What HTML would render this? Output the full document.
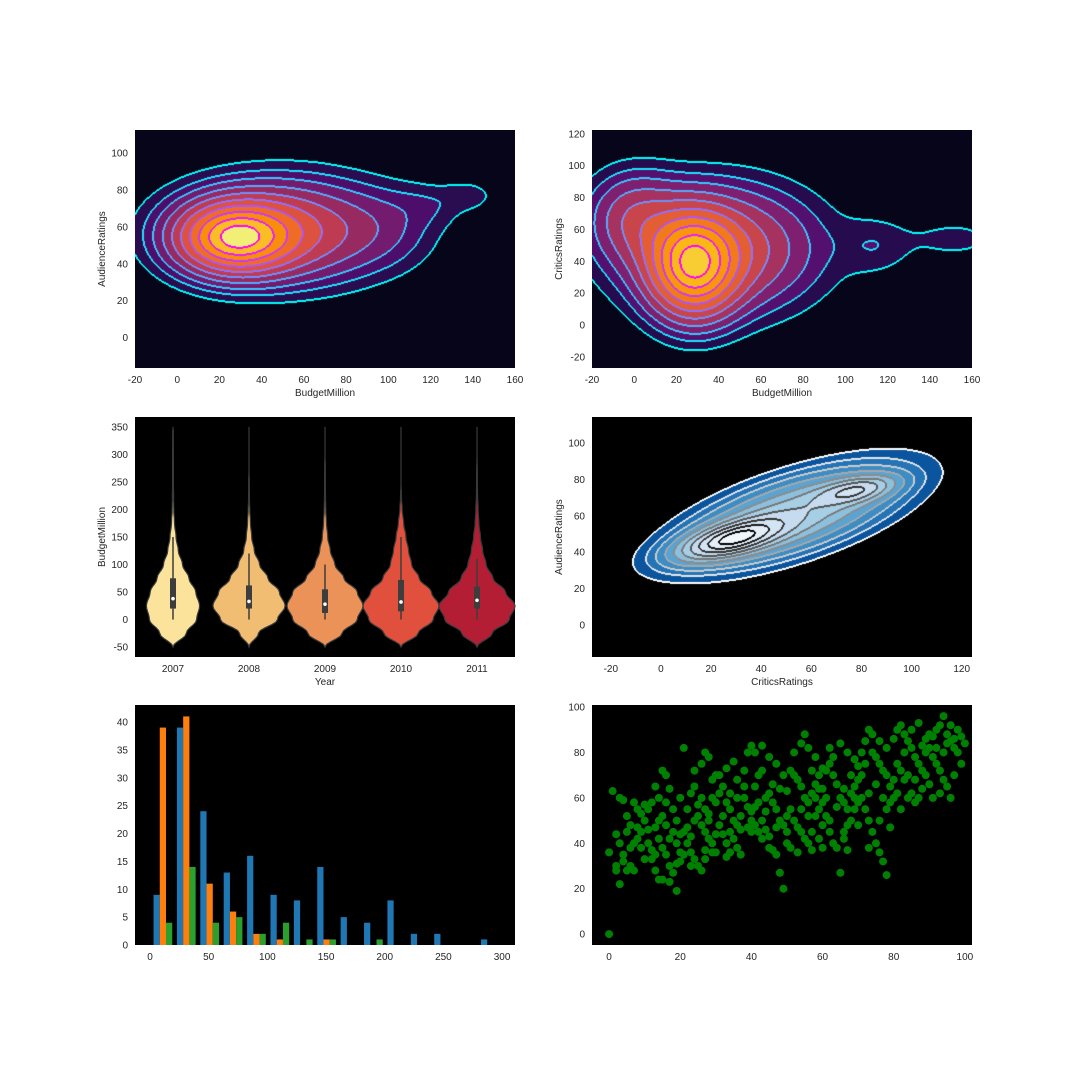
<!DOCTYPE html>
<html><head><meta charset="utf-8">
<style>
html,body{margin:0;padding:0;background:#fff;width:1080px;height:1080px;overflow:hidden}
#wrap{position:relative;width:1080px;height:1080px}
canvas{position:absolute}
svg{position:absolute;left:0;top:0}
text{font-family:"Liberation Sans",Arial,sans-serif;fill:#262626}
</style></head>
<body>
<div id="wrap">
<canvas id="c-tl" width="380" height="238" style="left:135px;top:130px"></canvas>
<canvas id="c-tr" width="380" height="238" style="left:592px;top:130px"></canvas>
<canvas id="c-mr" width="380" height="240" style="left:592px;top:417px"></canvas>
<svg id="svg" width="1080" height="1080"></svg>
</div>
<script>
// ---------- data ----------
// KDE components: weight, mx, my, sx, sy, rho
const tlWeights=[1.0,0.5,0.06,0.06,0.05];
const tlMx=[27,50,138,100,120];
const tlMy=[54,58,77,60,72];
const tlSx=[17,30,8,15,12];
const tlSy=[12,17,5,14,8];
const tlRho=[0,0,0,0,0];
const trWeights=[1.0,0.45,0.25,0.06,0.07];
const trMx=[28,40,0,152,115];
const trMy=[37,48,68,54,50];
const trSx=[13,28,14,14,12];
const trSy=[20,24,18,8,12];
const trRho=[0,0,0,0,0];
const mrWeights=[1.0,0.55,0.6];
const mrMx=[28,78,52];
const mrMy=[47,74,60];
const mrSx=[13,10,26];
const mrSy=[7,5,16];
const mrRho=[0.6,0.5,0.65];
// contour levels as fraction of peak density (outer -> inner)
const kdeLevels=[0.03,0.06,0.1,0.16,0.24,0.34,0.46,0.6,0.75,0.9];
// violin
const years=['2007','2008','2009','2010','2011'];
const violinGrid=[-50,-25,0,25,50,75,100,125,150,175,200,225,250,275,300,325,350];
const violinW2007=[0,0.35,0.62,0.7,0.6,0.42,0.25,0.14,0.08,0.04,0.02,0.015,0.01,0.01,0.008,0.005,0];
const violinW2008=[0,0.25,0.75,0.95,0.8,0.5,0.28,0.14,0.07,0.04,0.02,0.01,0.005,0,0,0,0];
const violinW2009=[0,0.45,0.85,1.0,0.85,0.5,0.26,0.14,0.07,0.04,0.02,0.012,0.008,0.005,0,0,0];
const violinW2010=[0,0.45,0.85,1.0,0.8,0.48,0.28,0.2,0.13,0.07,0.03,0.01,0,0,0,0,0];
const violinW2011=[0,0.4,0.85,1.0,0.75,0.42,0.24,0.15,0.09,0.05,0.03,0.015,0.008,0.004,0,0,0];
const violinTop=[345,260,287,235,282];
const violinBottom=[-48,-35,-40,-40,-38];
const boxQ1=[20,20,12,15,20];
const boxQ3=[75,62,55,72,60];
const boxMed=[38,33,28,32,35];
const whiskLo=[0,0,0,0,0];
const whiskHi=[150,120,100,150,110];
// histogram
const histEdgesStart=1, histBinWidth=19.93;
const histBlue=[9,39,24,13,16,9,8,14,5,4,8,2,2,0,1];
const histOrange=[39,41,11,6,2,1,0,1,0,0,0,0,0,0,0];
const histGreen=[4,14,4,5,2,4,1,1,0,1,0,0,0,0,0];
// scatter
const scatterX=[0,1,0,3,4,2,2,3,4,5,5,6,7,8,8,9,10,4,6,7,9,10,6,3,2,7,8,9,10,5,
11,12,13,14,15,16,17,13,14,15,16,17,18,19,12,13,15,17,11,12,14,15,16,18,19,19,20,18,20,16,11,13,17,20,19,14,
21,22,23,24,25,26,27,28,29,30,21,22,23,24,25,26,27,28,29,30,24,26,27,28,29,22,23,25,26,27,28,30,21,23,27,29,20,24,
31,32,33,34,35,36,37,38,39,40,31,32,33,34,35,36,37,39,40,31,33,35,36,38,39,40,32,34,36,38,30,37,40,33,34,
41,42,43,44,45,46,47,48,49,50,41,42,43,44,45,46,47,48,49,50,41,43,45,47,49,42,44,46,48,50,41,43,45,47,50,
51,52,53,54,55,56,57,58,59,60,51,52,53,54,55,56,57,58,59,60,52,54,56,58,55,57,59,51,53,57,59,60,54,56,58,60,
61,62,63,64,65,66,67,68,69,70,61,62,63,64,65,66,67,68,69,70,62,63,65,67,69,61,64,66,68,70,62,67,60,66,69,
71,72,73,74,75,76,77,78,79,80,71,72,73,74,75,76,77,78,79,80,71,73,75,77,79,72,74,76,78,80,70,73,76,78,
81,82,83,84,85,86,87,88,89,90,81,82,83,84,85,86,87,88,89,90,81,83,85,87,89,82,84,86,88,90,
91,92,93,94,95,96,97,98,99,100,91,92,93,94,95,96,97,98,99,91,93,95,96,97,92,94];
const scatterY=[0,63,36,60,59,30,28,22,35,45,52,48,40,42,55,53,50,32,30,28,38,33,38,40,44,58,47,45,57,28,
55,58,65,60,72,70,64,47,42,38,35,30,27,19,33,28,24,23,40,37,50,52,48,45,50,40,44,55,60,58,46,35,42,36,31,24,
82,55,62,65,52,48,45,42,40,58,45,40,36,33,30,28,37,50,60,70,72,75,80,78,68,47,43,57,60,55,53,44,35,30,33,36,32,50,
62,65,58,55,50,48,46,60,56,54,48,44,40,36,42,38,35,47,45,70,73,76,68,72,80,83,52,62,60,65,36,52,50,34,45,
65,70,72,60,62,58,55,50,48,52,48,45,50,46,43,37,35,27,20,40,80,83,78,75,70,58,54,66,64,63,56,42,38,47,45,
72,70,68,65,60,58,62,66,70,73,55,50,47,45,42,40,45,52,55,58,80,84,82,78,88,72,64,38,36,37,42,48,55,52,60,64,
72,75,70,66,60,58,55,62,65,68,52,50,40,38,27,45,48,50,55,58,82,78,84,80,77,60,56,64,70,74,45,37,38,42,60,
80,85,90,88,78,75,72,70,65,68,60,55,50,45,40,36,32,26,47,60,70,62,66,60,58,75,80,85,82,86,48,38,50,55,
90,92,88,85,82,78,75,72,70,66,75,72,68,60,62,58,60,64,80,88,62,80,90,93,86,55,70,68,83,82,
87,90,92,96,88,85,82,90,87,84,78,75,72,68,65,60,70,80,75,60,62,84,92,86,82,80];

// ---------- helpers ----------
const NS='http://www.w3.org/2000/svg';
const svg=document.getElementById('svg');
function mk(tag,attrs,parent){const e=document.createElementNS(NS,tag);for(const k in attrs)e.setAttribute(k,attrs[k]);(parent||svg).appendChild(e);return e;}
const AX={
 tl:{x:135,y:130,w:380,h:238,x0:-20,x1:160,y0:-16.5,y1:112.5},
 tr:{x:592,y:130,w:380,h:238,x0:-20,x1:160,y0:-27,y1:122.4},
 ml:{x:135,y:417,w:380,h:240,x0:-0.5,x1:4.5,y0:-68,y1:368},
 mr:{x:592,y:417,w:380,h:240,x0:-27.5,x1:124.1,y0:-17.6,y1:114.3},
 bl:{x:135,y:705,w:380,h:240,x0:-12.8,x1:311,y0:0,y1:43.05},
 br:{x:592,y:705,w:380,h:240,x0:-4.8,x1:102,y0:-4.8,y1:100.9}
};
function X(a,v){return a.x+(v-a.x0)/(a.x1-a.x0)*a.w;}
function Y(a,v){return a.y+a.h-(v-a.y0)/(a.y1-a.y0)*a.h;}
function xticks(a,vals,labels,name){vals.forEach((v,i)=>{const t=mk('text',{x:X(a,v),y:a.y+a.h+15,'text-anchor':'middle','font-size':'10'});t.textContent=labels?labels[i]:v;

});}
function yticks(a,vals,name){vals.forEach(v=>{const t=mk('text',{x:a.x-7,y:Y(a,v)+3.5,'text-anchor':'end','font-size':'10'});t.textContent=v;

});}
function xlabel(a,s,name){const t=mk('text',{x:a.x+a.w/2,y:a.y+a.h+28,'text-anchor':'middle','font-size':'10'});t.textContent=s;

}
function ylabel(a,s,name){const cx=a.x-30,cy=a.y+a.h/2;const t=mk('text',{x:cx,y:cy,'text-anchor':'middle','font-size':'10',transform:`rotate(-90 ${cx} ${cy})`});t.textContent=s;

}
function range(a,b,s){const r=[];for(let v=a;v<=b+1e-9;v+=s)r.push(v);return r;}

// ---------- KDE ----------
function kde(id,a,W,MX,MY,SX,SY,R,fills,lines){
 const c=document.getElementById(id),ctx=c.getContext('2d');
 const w=a.w,h=a.h,den=new Float32Array(w*h),idx=new Int16Array(w*h);
 let mx=0;
 for(let j=0;j<h;j++)for(let i=0;i<w;i++){
  const x=a.x0+(i+0.5)/w*(a.x1-a.x0),y=a.y1-(j+0.5)/h*(a.y1-a.y0);
  let d=0;
  for(let k=0;k<W.length;k++){const dx=(x-MX[k])/SX[k],dy=(y-MY[k])/SY[k],r=R[k];
   d+=W[k]*Math.exp(-0.5*(dx*dx+dy*dy-2*r*dx*dy)/(1-r*r));}
  den[j*w+i]=d;if(d>mx)mx=d;
 }
 for(let p=0;p<w*h;p++){const d=den[p]/mx;let n=0;while(n<kdeLevels.length&&d>=kdeLevels[n])n++;idx[p]=n;}
 const img=ctx.createImageData(w,h);
 function hex(s){return [parseInt(s.substr(1,2),16),parseInt(s.substr(3,2),16),parseInt(s.substr(5,2),16)];}
 const F=fills.map(hex),L=lines.map(hex);
 for(let j=0;j<h;j++)for(let i=0;i<w;i++){
  const p=j*w+i,n=idx[p];let col=F[n];
  const nb=[[i+1,j],[i-1,j],[i,j+1],[i,j-1]];
  let lv=n,diff=false;
  for(const [u,v] of nb){if(u<0||v<0||u>=w||v>=h)continue;const q=idx[v*w+u];if(q!==n){diff=true;lv=Math.max(lv,q);}}
  if(diff)col=L[Math.max(lv,1)-1];
  img.data[p*4]=col[0];img.data[p*4+1]=col[1];img.data[p*4+2]=col[2];img.data[p*4+3]=255;
 }
 ctx.putImageData(img,0,0);
}
const coolLines=['#00ffff','#1ce3ff','#38c7ff','#55aaff','#718eff','#8e71ff','#aa55ff','#c738ff','#e31cff','#ff00ff'];
kde('c-tl',AX.tl,tlWeights,tlMx,tlMy,tlSx,tlSy,tlRho,
 ['#06051a','#2a0c50','#4c0d6b','#731b6e','#982a62','#bf3b52','#dd5140','#f06c26','#f98e0b','#fbbd24','#f1ef75'],coolLines);
kde('c-tr',AX.tr,trWeights,trMx,trMy,trSx,trSy,trRho,
 ['#06051a','#260c4e','#54106f','#7e1f6f','#a63260','#c9454c','#e45e34','#f27a1a','#f9960c','#f9b816','#f8cc33'],coolLines);
kde('c-mr',AX.mr,mrWeights,mrMx,mrMy,mrSx,mrSy,mrRho,
 ['#000000','#0b559f','#2474b7','#3d8dc4','#5ba3d0','#8cc0dd','#a6cee4','#c6dbef','#d3e4f3','#e3eef8','#eff6fc'],
 ['#ffffff','#e6e6e6','#cccccc','#a8a8a8','#8c8c8c','#777777','#555555','#333333','#1a1a1a','#000000']);

// ---------- axes text for KDEs ----------
xticks(AX.tl,range(-20,160,20),null,'kde1');yticks(AX.tl,range(0,100,20),'kde1');
xlabel(AX.tl,'BudgetMillion','kde1');ylabel(AX.tl,'AudienceRatings','kde1');
xticks(AX.tr,range(-20,160,20),null,'kde2');yticks(AX.tr,range(-20,120,20),'kde2');
xlabel(AX.tr,'BudgetMillion','kde2');ylabel(AX.tr,'CriticsRatings','kde2');
xticks(AX.mr,range(-20,120,20),null,'kde3');yticks(AX.mr,range(0,100,20),'kde3');
xlabel(AX.mr,'CriticsRatings','kde3');ylabel(AX.mr,'AudienceRatings','kde3');

// ---------- violin ----------
(function(){
 const a=AX.ml;
 const bg=mk('rect',{x:a.x,y:a.y,width:a.w,height:a.h,fill:'#000'});
 
 
 const widths=[violinW2007,violinW2008,violinW2009,violinW2010,violinW2011];
 const colors=['#fbe39c','#f0bd72','#ea9257','#e0503c','#b41e34'];
 const maxHalf=0.5*a.w/5;
 years.forEach((yr,k)=>{
  const cx=X(a,k),W=widths[k];
  const pts=[];
  for(let g=0;g<violinGrid.length-1;g++){
   for(let s=0;s<5;s++){const t=s/5,f=(1-Math.cos(t*Math.PI))/2;
    pts.push([violinGrid[g]+t*(violinGrid[g+1]-violinGrid[g]),W[g]+(W[g+1]-W[g])*f]);}
  }
  pts.push([violinGrid[violinGrid.length-1],W[W.length-1]]);
  let d='M'+pts.map(p=>`${(cx+p[1]*maxHalf).toFixed(1)},${Y(a,p[0]).toFixed(1)}`).join('L');
  d+='L'+pts.slice().reverse().map(p=>`${(cx-p[1]*maxHalf).toFixed(1)},${Y(a,p[0]).toFixed(1)}`).join('L')+'Z';
  const tail=mk('line',{x1:cx,x2:cx,y1:Y(a,violinBottom[k]),y2:Y(a,violinTop[k]),stroke:'#444',"stroke-width":1.5});
  
  
  const v=mk('path',{d:d,fill:colors[k],stroke:'#3a3a3a','stroke-width':1.2});
  
  
  const wh=mk('line',{x1:cx,x2:cx,y1:Y(a,whiskLo[k]),y2:Y(a,whiskHi[k]),stroke:'#3d3d3d','stroke-width':1.5});
  
  
  const bx=mk('line',{x1:cx,x2:cx,y1:Y(a,boxQ1[k]),y2:Y(a,boxQ3[k]),stroke:'#3d3d3d','stroke-width':6});
  
  
  const md=mk('circle',{cx:cx,cy:Y(a,boxMed[k]),r:1.8,fill:'#fff'});
  
  
 });
 xticks(a,[0,1,2,3,4],years,'violin');yticks(a,range(-50,350,50),'violin');
 xlabel(a,'Year','violin');ylabel(a,'BudgetMillion','violin');
})();

// ---------- histogram ----------
(function(){
 const a=AX.bl;
 const bg=mk('rect',{x:a.x,y:a.y,width:a.w,height:a.h,fill:'#000'});
 
 
 const series=[histBlue,histOrange,histGreen],cols=['#1f77b4','#ff7f0e','#2ca02c'],names=['blue','orange','green'];
 const bw=histBinWidth*0.8/3;
 series.forEach((s,si)=>{s.forEach((v,i)=>{
  if(v<=0)return;
  const l=histEdgesStart+i*histBinWidth+0.1*histBinWidth+si*bw;
  const r=mk('rect',{x:X(a,l),y:Y(a,v),width:X(a,l+bw)-X(a,l),height:Y(a,0)-Y(a,v),fill:cols[si]});
  
  
 });});
 xticks(a,range(0,300,50),null,'hist');yticks(a,range(0,40,5),'hist');
})();

// ---------- scatter ----------
(function(){
 const a=AX.br;
 const bg=mk('rect',{x:a.x,y:a.y,width:a.w,height:a.h,fill:'#000'});
 
 
 scatterX.forEach((x,i)=>{
  const c=mk('circle',{cx:X(a,x),cy:Y(a,scatterY[i]),r:4,fill:'#008000'});
  
  
 });
 xticks(a,range(0,100,20),null,'scatter');yticks(a,range(0,100,20),'scatter');
})();
</script>
</body></html>
